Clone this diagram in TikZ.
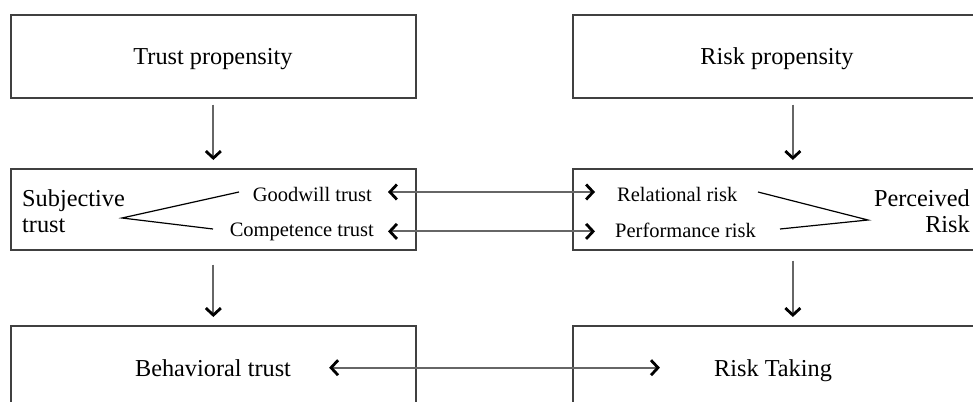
\documentclass[tikz,border=0pt]{standalone}
\usepackage{fontspec}
\setmainfont{Liberation Serif}
\usetikzlibrary{arrows.meta}
\begin{document}
\begin{tikzpicture}[x=1pt,y=-1pt,
  box/.style={draw=black!75, line width=1.7pt, inner sep=0pt},
  lbl/.style={font=\fontsize{24.3}{26}\selectfont, inner sep=0pt},
  sub/.style={font=\fontsize{20.5}{22}\selectfont, inner sep=0pt},
  flow/.style={draw=black!60, line width=1.8pt,
    -{Straight Barb[length=7pt,width=15pt,line width=2.8pt,color=black]}},
  both/.style={draw=black!60, line width=1.8pt,
    {Straight Barb[length=7pt,width=15pt,line width=2.8pt,color=black]}-{Straight Barb[length=7pt,width=15pt,line width=2.8pt,color=black]}},
  fork/.style={draw=black, line width=1.2pt}]
\useasboundingbox (0,0) rectangle (973,401);
\begin{scope}
\clip (0,0) rectangle (973,401);
% frames of the three stages, trust column and risk column
\node[box, minimum width=405pt, minimum height=83pt, anchor=north west] (tpBox) at (10,14) {};
\node[box, minimum width=440pt, minimum height=83pt, anchor=north west] (rpBox) at (572,14) {};
\node[box, minimum width=405pt, minimum height=81pt, anchor=north west] (stBox) at (10,168) {};
\node[box, minimum width=440pt, minimum height=81pt, anchor=north west] (prBox) at (572,168) {};
\node[box, minimum width=405pt, minimum height=110pt, anchor=north west] (btBox) at (10,325) {};
\node[box, minimum width=440pt, minimum height=110pt, anchor=north west] (rkBox) at (572,325) {};
\end{scope}

% labels
\node[lbl, anchor=base] (tp) at (213,65) {Trust propensity};
\node[lbl, anchor=base] (rp) at (777,65) {Risk propensity};
\node[lbl, anchor=base] (bt) at (213,376) {Behavioral trust};
\node[lbl, anchor=base] (rt) at (773,376) {Risk Taking};
\node[lbl, anchor=west, align=left] (st) at (22,211) {Subjective\\trust};
\node[lbl, anchor=east, align=right] (pr) at (970,211) {Perceived\\Risk};
\node[sub, anchor=base east] (gw) at (372,201) {Goodwill trust};
\node[sub, anchor=base east] (cp) at (374,236) {Competence trust};
\node[sub, anchor=base west] (rr) at (617,201) {Relational risk};
\node[sub, anchor=base west] (pf) at (615,237) {Performance risk};

% vertical flow between stages
\draw[flow, shorten <=6pt, shorten >=8pt] (tpBox) -- (stBox);
\draw[flow, shorten <=6pt, shorten >=8pt] (rpBox) -- (prBox);
\draw[flow, shorten <=14pt, shorten >=8pt] (stBox) -- (btBox);
\draw[flow, shorten <=10pt, shorten >=8pt] (prBox) -- (rkBox);

% links between the two columns
\draw[both, shorten <=16pt, shorten >=22pt] ([yshift=2pt]gw.east) -- ([yshift=2pt]gw.east -| rr.west);
\draw[both, shorten <=14pt, shorten >=20pt] (cp.east) -- (cp.east -| pf.west);
\draw[both, shorten <=38pt, shorten >=54pt] (bt.east) -- (bt.east -| rt.west);

% forks joining the dimensions to their construct
\coordinate (stV) at (122,218);
\coordinate (gwT) at (239,192);
\coordinate (cpT) at (213,229);
\draw[fork] (gwT) -- (stV) -- (cpT);
\coordinate (prV) at (868,220);
\coordinate (rrT) at (758,192);
\coordinate (pfT) at (780,229);
\draw[fork] (rrT) -- (prV) -- (pfT);
\end{tikzpicture}
\end{document}
